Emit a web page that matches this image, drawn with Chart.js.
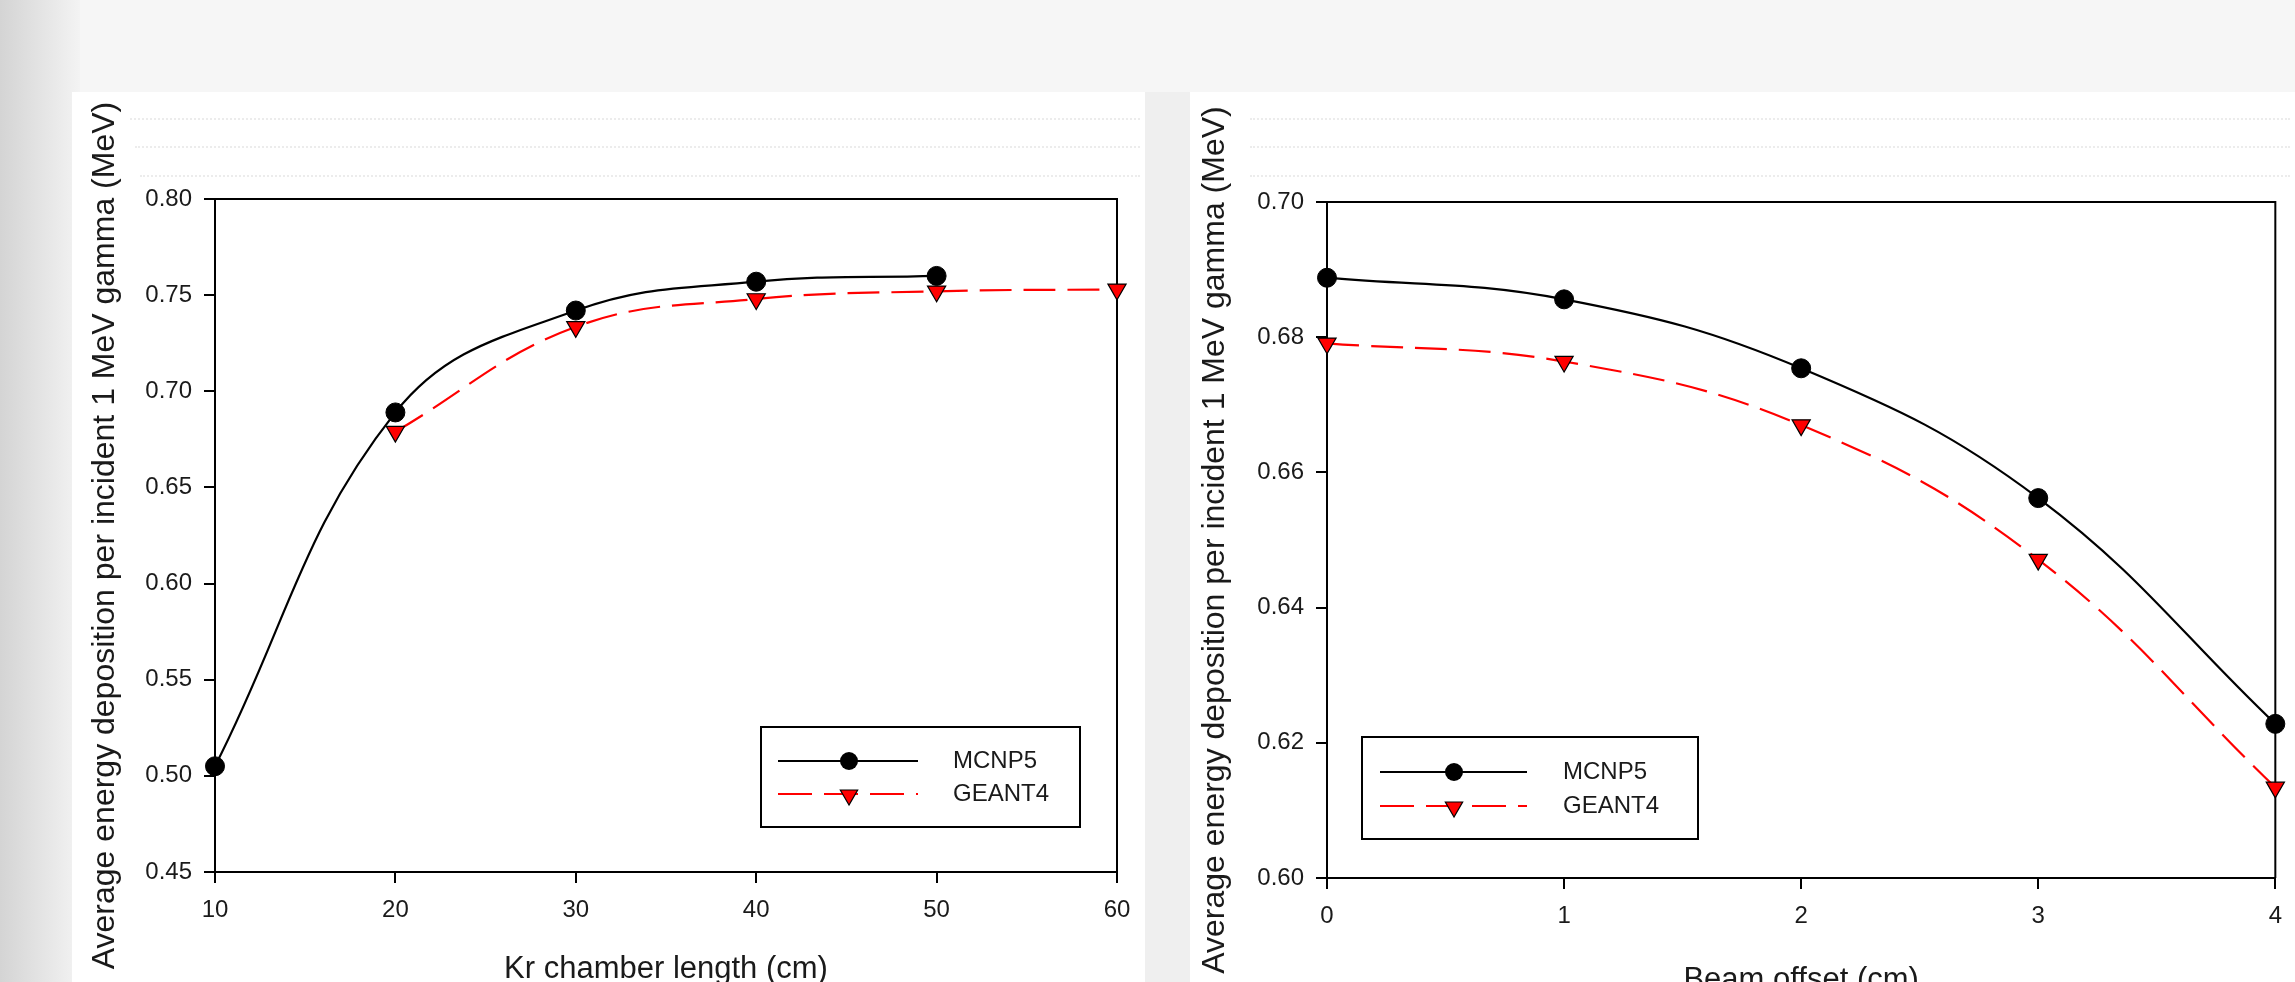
<!DOCTYPE html>
<html>
<head>
<meta charset="utf-8">
<script src="https://cdn.jsdelivr.net/npm/chart.js@4.4.0/dist/chart.umd.min.js"></script>
<style>
html,body{margin:0;padding:0;width:2295px;height:982px;overflow:hidden;}
body{position:relative;background:#f6f6f6;font-family:"Liberation Sans",Arial,sans-serif;}
#edge{position:absolute;left:0;top:0;width:80px;height:982px;background:linear-gradient(to right,#d4d4d4,#f3f3f3);}
#gap{position:absolute;left:1145px;top:92px;width:45px;height:890px;background:#efefef;}
.panel{position:absolute;top:92px;height:890px;background:#fff;}
#p1{left:72px;width:1073px;}
#p2{left:1190px;width:1105px;}
.wrap{position:absolute;top:92px;height:950px;}
#w1{left:72px;width:1073px;}
#w2{left:1190px;width:1105px;}
.dots{position:absolute;height:0;border-top:2px dotted #ececec;}
canvas{display:block;}
</style>
</head>
<body>
<div id="edge"></div>
<div id="gap"></div>
<div class="panel" id="p1"></div>
<div class="panel" id="p2"></div>
<div class="dots" style="left:130px;top:118px;width:1010px"></div>
<div class="dots" style="left:135px;top:146px;width:1005px"></div>
<div class="dots" style="left:140px;top:175px;width:1000px"></div>
<div class="dots" style="left:1250px;top:118px;width:1040px"></div>
<div class="dots" style="left:1250px;top:146px;width:1040px"></div>
<div class="dots" style="left:1250px;top:175px;width:1040px"></div>
<div class="wrap" id="w1"><canvas id="c1" width="1073" height="950"></canvas></div>
<div class="wrap" id="w2"><canvas id="c2" width="1105" height="950"></canvas></div>
<script>
// ---------- data ----------
const seriesNames = ['MCNP5', 'GEANT4'];

const lengthCategories = [10, 20, 30, 40, 50, 60];
const mcnpByLength     = [0.505, 0.689, 0.742, 0.757, 0.760, null];
const geantByLength    = [null, 0.679, 0.7335, 0.748, 0.752, 0.753];
const lengthYTicks     = ['0.45','0.50','0.55','0.60','0.65','0.70','0.75','0.80'];

const offsetCategories = [0, 1, 2, 3, 4];
const mcnpByOffset     = [0.6888, 0.6856, 0.6754, 0.6562, 0.6228];
const geantByOffset    = [0.6791, 0.6764, 0.6670, 0.6471, 0.6134];
const offsetYTicks     = ['0.60','0.62','0.64','0.66','0.68','0.70'];

const yTitle = 'Average energy deposition per incident 1 MeV gamma (MeV)';
const xTitleLength = 'Kr chamber length (cm)';
const xTitleOffset = 'Beam offset (cm)';

// ---------- helpers ----------
Chart.defaults.font.family = '"Liberation Sans", Arial, sans-serif';
Chart.defaults.color = '#1a1a1a';

function toPoints(xs, ys) {
  return xs.map((x, i) => ({x: x, y: ys[i]})).filter(p => p.y !== null);
}

const RED = '#ff0000';
const DASH = [32, 12];

function drawTriangleDown(ctx, x, y, r) {
  ctx.beginPath();
  let rad = Math.PI;
  ctx.moveTo(x + Math.sin(rad) * r, y - Math.cos(rad) * r);
  rad += 2 * Math.PI / 3;
  ctx.lineTo(x + Math.sin(rad) * r, y - Math.cos(rad) * r);
  rad += 2 * Math.PI / 3;
  ctx.lineTo(x + Math.sin(rad) * r, y - Math.cos(rad) * r);
  ctx.closePath();
  ctx.fillStyle = RED; ctx.fill();
  ctx.lineWidth = 1.2; ctx.strokeStyle = '#000'; ctx.stroke();
}

const framePlugin = {
  id: 'frame',
  beforeDatasetsDraw(chart) {
    const a = chart.chartArea, ctx = chart.ctx;
    ctx.save();
    ctx.strokeStyle = '#000'; ctx.lineWidth = 2;
    ctx.beginPath();
    ctx.moveTo(a.left, a.top); ctx.lineTo(a.right, a.top); ctx.lineTo(a.right, a.bottom);
    ctx.stroke();
    ctx.restore();
  }
};

const boxLegendPlugin = {
  id: 'boxLegend',
  afterDraw(chart, args, o) {
    const ctx = chart.ctx;
    ctx.save();
    ctx.fillStyle = '#fff';
    ctx.fillRect(o.box[0], o.box[1], o.box[2] - o.box[0], o.box[3] - o.box[1]);
    ctx.strokeStyle = '#000'; ctx.lineWidth = 2;
    ctx.strokeRect(o.box[0], o.box[1], o.box[2] - o.box[0], o.box[3] - o.box[1]);
    // row 1 : MCNP5
    ctx.strokeStyle = '#000'; ctx.lineWidth = 2; ctx.setLineDash([]);
    ctx.beginPath(); ctx.moveTo(o.line[0], o.rows[0]); ctx.lineTo(o.line[1], o.rows[0]); ctx.stroke();
    ctx.beginPath(); ctx.arc(o.marker, o.rows[0], 9, 0, Math.PI * 2);
    ctx.fillStyle = '#000'; ctx.fill();
    // row 2 : GEANT4
    ctx.strokeStyle = RED; ctx.lineWidth = 2; ctx.setLineDash([34, 12]);
    ctx.beginPath(); ctx.moveTo(o.line[0], o.rows[1]); ctx.lineTo(o.line[1], o.rows[1]); ctx.stroke();
    ctx.setLineDash([]);
    drawTriangleDown(ctx, o.marker, o.rows[1] + 1, 10);
    // labels
    ctx.fillStyle = '#1a1a1a';
    ctx.font = '24px "Liberation Sans", Arial, sans-serif';
    ctx.textBaseline = 'middle'; ctx.textAlign = 'left';
    const names = chart.data.datasets.map(d => d.label);
    ctx.fillText(names[0], o.textX, o.rows[0]);
    ctx.fillText(names[1], o.textX, o.rows[1]);
    ctx.restore();
  }
};

function makeChart(id, cfg) {
  const yLabels = cfg.yTicks;
  const yMin = parseFloat(yLabels[0]), yMax = parseFloat(yLabels[yLabels.length - 1]);
  const yStep = parseFloat(yLabels[1]) - yMin;
  return new Chart(document.getElementById(id), {
    type: 'line',
    data: {
      datasets: [
        {
          label: seriesNames[0], data: toPoints(cfg.xs, cfg.mcnp), order: 2,
          borderColor: '#000', borderWidth: 2.2,
          pointStyle: 'circle', pointRadius: 9.5, pointHoverRadius: 9.5,
          pointBackgroundColor: '#000', pointBorderColor: '#000', pointBorderWidth: 1,
          tension: 0.4, clip: false
        },
        {
          label: seriesNames[1], data: toPoints(cfg.xs, cfg.geant), order: 1,
          borderColor: RED, borderWidth: 2.2, borderDash: DASH,
          pointStyle: 'triangle', pointRotation: 180, pointRadius: 10.5, pointHoverRadius: 10.5,
          pointBackgroundColor: RED, pointBorderColor: '#000', pointBorderWidth: 1.2,
          tension: 0.4, clip: false
        }
      ]
    },
    options: {
      responsive: false, animation: false, devicePixelRatio: 1,
      events: [],
      layout: { padding: cfg.padding },
      plugins: { legend: { display: false }, tooltip: { enabled: false }, boxLegend: cfg.legend },
      scales: {
        x: {
          type: 'linear', min: cfg.xs[0], max: cfg.xs[cfg.xs.length - 1],
          ticks: { stepSize: cfg.xs[1] - cfg.xs[0], font: { size: 24 }, color: '#1a1a1a', padding: 13, maxRotation: 0 },
          grid: { display: true, drawOnChartArea: false, drawTicks: true, tickLength: 11, color: '#000', lineWidth: 2 },
          border: { display: true, color: '#000', width: 2 },
          title: { display: true, text: cfg.xTitle, font: { size: 31 }, color: '#1a1a1a', padding: { top: 0, bottom: 0 } },
          afterFit: s => { s.height = cfg.xAxisH; }
        },
        y: {
          min: yMin, max: yMax,
          ticks: { stepSize: yStep, font: { size: 24 }, color: '#1a1a1a', padding: 12,
                   callback: (v) => { const s = v.toFixed(2); return yLabels.includes(s) ? s : ''; } },
          grid: { display: true, drawOnChartArea: false, drawTicks: true, tickLength: 11, color: '#000', lineWidth: 2 },
          border: { display: true, color: '#000', width: 2 },
          title: { display: true, text: yTitle, font: { size: 32 }, color: '#1a1a1a', padding: { top: 0, bottom: 0 } },
          afterFit: s => { s.width = cfg.yAxisW; }
        }
      }
    },
    plugins: [framePlugin, boxLegendPlugin]
  });
}

makeChart('c1', {
  xs: lengthCategories, mcnp: mcnpByLength, geant: geantByLength, yTicks: lengthYTicks,
  xTitle: xTitleLength,
  padding: { left: 14.4, top: 107, right: 28, bottom: 54.4 },
  yAxisW: 128.6, xAxisH: 115.6,
  legend: { box: [689, 635, 1008, 735], line: [706, 846], marker: 777, rows: [669, 702], textX: 881 }
});

makeChart('c2', {
  xs: offsetCategories, mcnp: mcnpByOffset, geant: geantByOffset, yTicks: offsetYTicks,
  xTitle: xTitleOffset,
  padding: { left: 6.4, top: 110, right: 17, bottom: 43.4 },
  yAxisW: 130.6, xAxisH: 120.6,
  legend: { box: [172, 645, 508, 747], line: [190, 337], marker: 264, rows: [680, 714], textX: 373 }
});
</script>
</body>
</html>
